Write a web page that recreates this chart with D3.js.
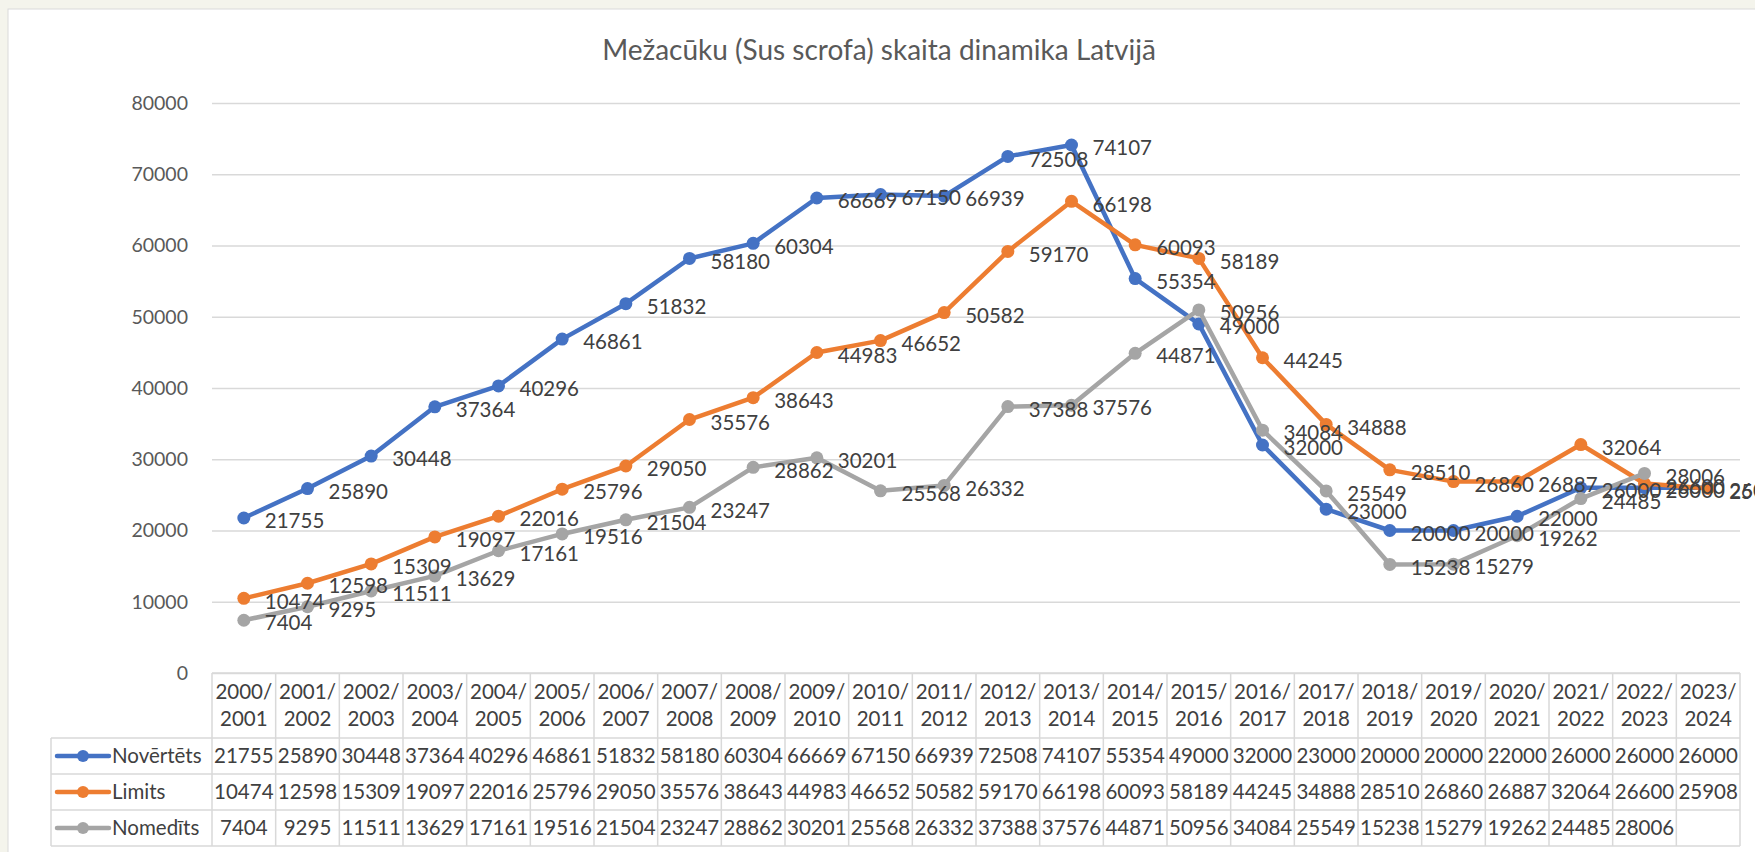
<!DOCTYPE html>
<html>
<head>
  <meta charset="UTF-8" />
  <title>Mežacūku skaita dinamika</title>
  <style>
    body { margin: 0; background: #f4f4ec; font-family: Lato, "Open Sans", sans-serif; }
    svg { display: block; }
  </style>
</head>
<body>
  <div id="chart"></div>
  <script src="https://d3js.org/d3.v7.min.js"></script>
  <script>
    // dati
    const seasons = ["2000/2001", "2001/2002", "2002/2003", "2003/2004", "2004/2005", "2005/2006",
      "2006/2007", "2007/2008", "2008/2009", "2009/2010", "2010/2011", "2011/2012", "2012/2013",
      "2013/2014", "2014/2015", "2015/2016", "2016/2017", "2017/2018", "2018/2019", "2019/2020",
      "2020/2021", "2021/2022", "2022/2023", "2023/2024"];
    const novertets = [21755, 25890, 30448, 37364, 40296, 46861, 51832, 58180, 60304, 66669, 67150, 66939,
      72508, 74107, 55354, 49000, 32000, 23000, 20000, 20000, 22000, 26000, 26000, 26000];
    const limits = [10474, 12598, 15309, 19097, 22016, 25796, 29050, 35576, 38643, 44983, 46652, 50582,
      59170, 66198, 60093, 58189, 44245, 34888, 28510, 26860, 26887, 32064, 26600, 25908];
    const nomedits = [7404, 9295, 11511, 13629, 17161, 19516, 21504, 23247, 28862, 30201, 25568, 26332,
      37388, 37576, 44871, 50956, 34084, 25549, 15238, 15279, 19262, 24485, 28006, null];
    const yTicks = [0, 10000, 20000, 30000, 40000, 50000, 60000, 70000, 80000];

    const series = [
      { name: "Novērtēts", values: novertets, color: "#4472c4" },
      { name: "Limits", values: limits, color: "#ed7d31" },
      { name: "Nomedīts", values: nomedits, color: "#a5a5a5" }
    ];

    const W = 1755, H = 852;
    const plot = { left: 212, right: 1740, top: 103, bottom: 673 };
    const tableLeft = 51, headerBottom = 738, rowH = 36;
    const fs = 20.5;

    const svg = d3.select("#chart").append("svg")
      .attr("width", W)
      .attr("height", H);

    // balts fons
    svg.append("rect")
      .attr("x", 8).attr("y", 9)
      .attr("width", W).attr("height", H)
      .attr("fill", "#fff")
      .attr("stroke", "#d9d9d9");

    svg.append("text")
      .attr("x", 879).attr("y", 60)
      .attr("text-anchor", "middle")
      .attr("font-size", 28)
      .attr("fill", "#595959")
      .text("Mežacūku (Sus scrofa) skaita dinamika Latvijā");

    const x = d3.scaleBand()
      .domain(seasons)
      .range([plot.left, plot.right])
      .padding(0);

    const y = d3.scaleLinear()
      .domain([0, 80000])
      .range([plot.bottom, plot.top]);

    const cx = d => x(d) + x.bandwidth() / 2;

    // režģis un y ass
    const yAxis = svg.append("g")
      .attr("transform", `translate(${plot.left},0)`)
      .call(d3.axisLeft(y).tickValues(yTicks).tickSize(-(plot.right - plot.left)).tickPadding(24).tickFormat(d3.format("d")));
    yAxis.select(".domain").remove();
    yAxis.selectAll(".tick line").attr("stroke", "#d9d9d9").attr("stroke-width", 1.5);
    yAxis.selectAll(".tick text")
      .attr("font-family", "Lato, sans-serif")
      .attr("font-size", 19.5)
      .attr("fill", "#595959");

    // līnijas
    const line = d3.line()
      .defined(d => d.v != null)
      .x(d => cx(d.s))
      .y(d => y(d.v));

    series.forEach(s => {
      const pts = seasons.map((season, i) => ({ s: season, v: s.values[i] }));
      const g = svg.append("g");
      g.append("path")
        .datum(pts)
        .attr("fill", "none")
        .attr("stroke", s.color)
        .attr("stroke-width", 4.5)
        .attr("stroke-linejoin", "round")
        .attr("d", line);
      g.selectAll("circle")
        .data(pts.filter(d => d.v != null))
        .enter()
        .append("circle")
        .attr("cx", d => cx(d.s))
        .attr("cy", d => y(d.v))
        .attr("r", 6.5)
        .attr("fill", s.color);
      s.pts = pts;
    });

    // datu etiķetes
    series.forEach(s => {
      svg.append("g").selectAll("text")
        .data(s.pts.filter(d => d.v != null))
        .enter()
        .append("text")
        .attr("x", d => cx(d.s) + 21)
        .attr("y", d => y(d.v) + 3)
        .attr("dy", "0.35em")
        .attr("font-size", fs)
        .attr("fill", "#404040")
        .text(d => d.v);
    });

    // datu tabula
    const table = svg.append("g").attr("stroke", "#d9d9d9").attr("stroke-width", 1.5);
    const tableBottom = headerBottom + rowH * series.length;

    table.append("line")
      .attr("x1", plot.left).attr("x2", plot.right)
      .attr("y1", plot.bottom).attr("y2", plot.bottom);
    d3.range(series.length + 1).forEach(i => {
      table.append("line")
        .attr("x1", tableLeft).attr("x2", plot.right)
        .attr("y1", headerBottom + i * rowH).attr("y2", headerBottom + i * rowH);
    });
    table.append("line")
      .attr("x1", tableLeft).attr("x2", tableLeft)
      .attr("y1", headerBottom).attr("y2", tableBottom);
    seasons.forEach(s => {
      table.append("line")
        .attr("x1", x(s)).attr("x2", x(s))
        .attr("y1", plot.bottom).attr("y2", tableBottom);
    });
    table.append("line")
      .attr("x1", plot.right).attr("x2", plot.right)
      .attr("y1", plot.bottom).attr("y2", tableBottom);

    const head = svg.append("g");
    seasons.forEach(s => {
      const parts = s.split("/");
      head.append("text")
        .attr("x", cx(s)).attr("y", 692)
        .attr("dy", "0.35em")
        .attr("text-anchor", "middle")
        .attr("font-size", fs)
        .attr("fill", "#404040")
        .text(parts[0] + "/");
      head.append("text")
        .attr("x", cx(s)).attr("y", 719)
        .attr("dy", "0.35em")
        .attr("text-anchor", "middle")
        .attr("font-size", fs)
        .attr("fill", "#404040")
        .text(parts[1]);
    });

    series.forEach((s, r) => {
      const ym = headerBottom + rowH * r + rowH / 2;
      const g = svg.append("g");
      g.append("line")
        .attr("x1", 57).attr("x2", 109)
        .attr("y1", ym).attr("y2", ym)
        .attr("stroke", s.color)
        .attr("stroke-width", 4.5)
        .attr("stroke-linecap", "round");
      g.append("circle")
        .attr("cx", 83).attr("cy", ym).attr("r", 6)
        .attr("fill", s.color);
      g.append("text")
        .attr("x", 112).attr("y", ym)
        .attr("dy", "0.35em")
        .attr("font-size", fs)
        .attr("fill", "#404040")
        .text(s.name);
      g.selectAll(".val")
        .data(s.pts.filter(d => d.v != null))
        .enter()
        .append("text")
        .attr("x", d => cx(d.s)).attr("y", ym)
        .attr("dy", "0.35em")
        .attr("text-anchor", "middle")
        .attr("font-size", fs)
        .attr("fill", "#404040")
        .text(d => d.v);
    });
  </script>
</body>
</html>
